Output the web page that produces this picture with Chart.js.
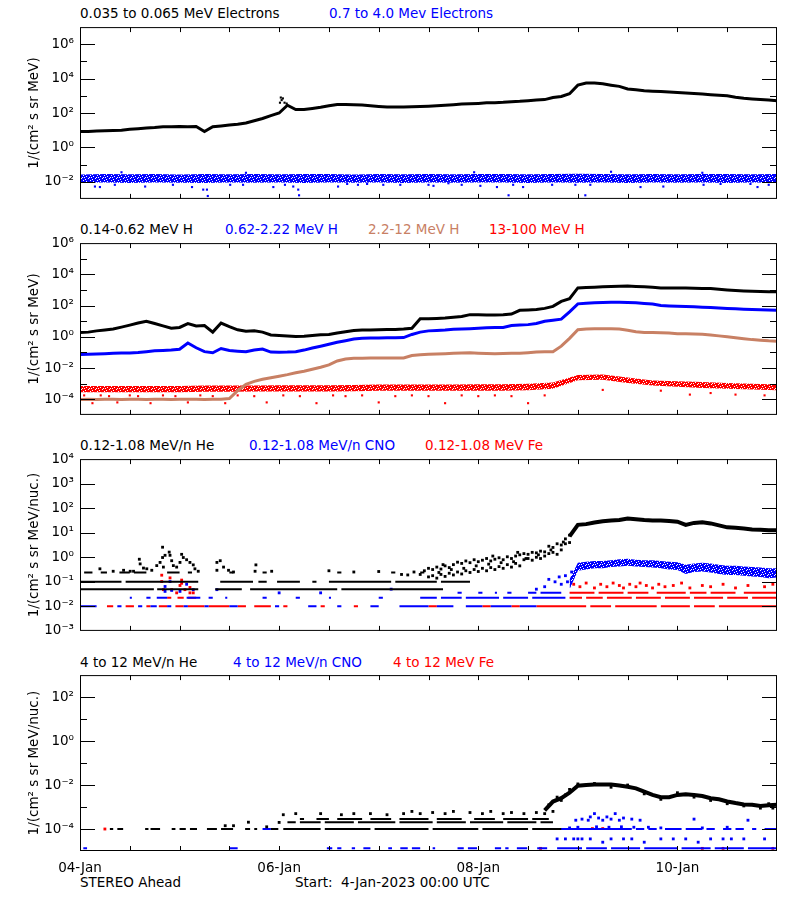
<!DOCTYPE html>
<html lang="en">
<head>
<meta charset="UTF-8">
<title>STEREO Ahead particle fluxes</title>
<script src="https://cdn.jsdelivr.net/npm/chart.js"></script>
<style>
    body {
        margin: 0;
        background: #fff;
        font-family: 'DejaVu Sans', sans-serif;
    }

    #page {
        position: relative;
        width: 800px;
        height: 900px;
    }

    #page canvas {
        position: absolute;
        left: 0;
    }

    .lbl {
        position: absolute;
        font-size: 13.5px;
        line-height: 16px;
        white-space: pre;
        color: #000;
    }

    .blue { color: #0000ff; }
    .red { color: #ff0000; }
    .tan { color: rgb(200, 128, 100); }
</style>
</head>
<body>
<div id="page">
    <div class="lbl" style="top:5px;left:80px">0.035 to 0.065 MeV Electrons</div>
    <div class="lbl blue" style="top:5px;left:329px">0.7 to 4.0 Mev Electrons</div>

    <div class="lbl" style="top:221px;left:80px">0.14-0.62 MeV H</div>
    <div class="lbl blue" style="top:221px;left:225px">0.62-2.22 MeV H</div>
    <div class="lbl tan" style="top:221px;left:368px">2.2-12 MeV H</div>
    <div class="lbl red" style="top:221px;left:489px">13-100 MeV H</div>

    <div class="lbl" style="top:437px;left:80px">0.12-1.08 MeV/n He</div>
    <div class="lbl blue" style="top:437px;left:249px">0.12-1.08 MeV/n CNO</div>
    <div class="lbl red" style="top:437px;left:425px">0.12-1.08 MeV Fe</div>

    <div class="lbl" style="top:654px;left:80px">4 to 12 MeV/n He</div>
    <div class="lbl blue" style="top:654px;left:233px">4 to 12 MeV/n CNO</div>
    <div class="lbl red" style="top:654px;left:393px">4 to 12 MeV Fe</div>

    <div class="lbl" style="top:874px;left:80px">STEREO Ahead</div>
    <div class="lbl" style="top:874px;left:295px">Start:  4-Jan-2023 00:00 UTC</div>

    <canvas id="p1" width="800" height="200" style="top:13px"></canvas>
    <canvas id="p2" width="800" height="200" style="top:229px"></canvas>
    <canvas id="p3" width="800" height="200" style="top:445px"></canvas>
    <canvas id="p4" width="800" height="230" style="top:661px"></canvas>
</div>

<script>
    // x axis: hours since 4-Jan-2023 00:00 UTC (7 days)
    const tickHours = [0, 12, 24, 36, 48, 60, 72, 84, 96, 108, 120, 132, 144, 156, 168];
    const dayHours = [0, 48, 96, 144];
    const dayNames = ['04-Jan', '06-Jan', '08-Jan', '10-Jan'];

    // all values below are log10 of the flux

    // --- panel 1: electrons ---
    // 0.035-0.065 MeV, every 2 h from 0 h
    const eLow = [0.93, 0.92, 0.95, 0.97, 0.98, 1.0, 1.05, 1.08, 1.12, 1.15,
        1.2, 1.2, 1.22, 1.2, 1.22, 0.92, 1.2, 1.25, 1.3, 1.35,
        1.42, 1.55, 1.68, 1.85, 2.0, 2.45, 2.2, 2.2, 2.26, 2.33,
        2.42, 2.5, 2.5, 2.48, 2.46, 2.42, 2.38, 2.35, 2.35, 2.35,
        2.36, 2.38, 2.4, 2.42, 2.45, 2.48, 2.52, 2.54, 2.56, 2.59,
        2.6, 2.62, 2.66, 2.68, 2.72, 2.75, 2.78, 2.9, 2.96, 3.12,
        3.62, 3.74, 3.74, 3.7, 3.62, 3.55, 3.4, 3.35, 3.3, 3.27,
        3.25, 3.22, 3.2, 3.17, 3.14, 3.1, 3.06, 3.03, 3.0, 2.92,
        2.86, 2.82, 2.78, 2.75, 2.72];
    const eSpike = [[48.2, 2.6], [48.4, 2.9], [48.6, 2.75], [48.9, 2.85], [49.3, 2.6], [49.8, 2.55]];
    // 0.7-4.0 MeV: band edges every 6 h, plus stray points
    const eHighTop = [-1.58, -1.55, -1.57, -1.55, -1.58, -1.55, -1.56, -1.55, -1.57, -1.55,
        -1.55, -1.58, -1.55, -1.56, -1.55, -1.57, -1.55, -1.55, -1.56, -1.55,
        -1.53, -1.55, -1.57, -1.55, -1.56, -1.55, -1.55, -1.57, -1.55];
    const eHighBot = [-2.06, -2.05, -2.08, -2.05, -2.06, -2.08, -2.05, -2.06, -2.05, -2.07,
        -2.05, -2.06, -2.05, -2.08, -2.05, -2.06, -2.05, -2.05, -2.07, -2.05,
        -2.06, -2.05, -2.08, -2.05, -2.06, -2.05, -2.07, -2.05, -2.06];
    const eHighOut = [[3.6, -2.28], [4.8, -2.31], [8.4, -2.18], [15.7, -2.28], [22.4, -2.18], [27, -2.31],
        [29.7, -2.46], [30.6, -2.46], [30.8, -2.83], [36.2, -2.18], [39.3, -2.18], [46.6, -2.31],
        [49.4, -2.18], [51.4, -2.28], [52.6, -2.46], [52.8, -2.79], [62.2, -2.28], [64.4, -2.13],
        [67, -2.18], [69.2, -2.13], [73.1, -2.18], [77.2, -2.18], [84, -2.18], [85.2, -2.24],
        [88.8, -2.09], [92, -2.18], [96.5, -2.24], [100.5, -2.31], [103.3, -2.79], [104.4, -2.18],
        [106.8, -2.31], [113.8, -2.18], [119.4, -2.18], [121.8, -2.79], [123, -2.18], [135.1, -2.31],
        [140.6, -2.28], [150.3, -2.18], [154.4, -2.13], [161.6, -2.13], [163.3, -2.31], [166, -2.18],
        [10, -1.45], [40, -1.48], [95, -1.45], [128, -1.42], [150, -1.48]];

    // --- panel 2: protons, every 2 h from 0 h ---
    const hLow = [0.27, 0.3, 0.38, 0.44, 0.5, 0.62, 0.75, 0.88, 1.0, 0.85,
        0.7, 0.55, 0.6, 0.85, 0.7, 0.72, 0.3, 0.88, 0.65, 0.45,
        0.35, 0.38, 0.3, 0.12, 0.08, 0.05, 0.02, 0.03, 0.08, 0.13,
        0.15, 0.25, 0.33, 0.4, 0.44, 0.44, 0.45, 0.46, 0.47, 0.5,
        0.55, 1.15, 1.15, 1.18, 1.2, 1.25, 1.3, 1.42, 1.42, 1.4,
        1.4, 1.42, 1.46, 1.7, 1.72, 1.75, 1.82, 1.95, 2.27, 2.44,
        3.13, 3.15, 3.17, 3.2, 3.22, 3.24, 3.25, 3.22, 3.2, 3.17,
        3.13, 3.13, 3.12, 3.12, 3.11, 3.1, 3.09, 3.05, 3.0, 2.96,
        2.93, 2.91, 2.9, 2.89, 2.88];
    const hMid = [-1.13, -1.12, -1.1, -1.08, -1.05, -1.04, -1.03, -1.0, -0.95, -0.9,
        -0.88, -0.85, -0.8, -0.4, -0.7, -0.95, -1.02, -0.75, -0.88, -0.92,
        -0.95, -0.85, -0.78, -0.98, -0.99, -0.98, -0.95, -0.85, -0.72, -0.6,
        -0.48, -0.35, -0.25, -0.14, -0.1, -0.08, -0.07, -0.06, -0.06, -0.05,
        0.15, 0.3, 0.38, 0.4, 0.43, 0.48, 0.5, 0.52, 0.55, 0.58,
        0.6, 0.6, 0.72, 0.75, 0.78, 0.85, 1.0, 1.06, 1.13, 1.6,
        2.11, 2.15, 2.18, 2.2, 2.21, 2.21, 2.2, 2.18, 2.14, 2.1,
        2.0, 1.98, 1.96, 1.94, 1.92, 1.9, 1.88, 1.85, 1.82, 1.8,
        1.77, 1.75, 1.73, 1.71, 1.7];
    const hHigh = [-4.02, -4.0, -4.02, -4.0, -4.0, -4.02, -4.0, -4.0, -4.02, -4.0,
        -4.0, -4.02, -4.0, -4.0, -4.0, -4.02, -4.0, -4.0, -3.95, -3.45,
        -3.05, -2.85, -2.72, -2.62, -2.52, -2.42, -2.3, -2.2, -2.08, -1.95,
        -1.8, -1.55, -1.42, -1.38, -1.37, -1.36, -1.36, -1.36, -1.36, -1.35,
        -1.2, -1.15, -1.12, -1.1, -1.08, -1.05, -1.03, -1.02, -1.05, -1.07,
        -1.08, -1.07, -1.06, -1.05, -1.02, -0.98, -0.95, -0.95, -0.6, -0.1,
        0.45, 0.5, 0.52, 0.52, 0.52, 0.5, 0.42, 0.32, 0.28, 0.27,
        0.26, 0.25, 0.2, 0.19, 0.18, 0.17, 0.12, 0.06, 0.0, -0.06,
        -0.12, -0.18, -0.22, -0.26, -0.28];
    // 13-100 MeV: band edges every 6 h, plus stray points
    const hTopHi = [-3.15, -3.15, -3.15, -3.15, -3.15, -3.12, -3.12, -3.12, -3.1, -3.1,
        -3.1, -3.08, -3.05, -3.05, -3.05, -3.05, -3.03, -3.03, -3.0, -2.92,
        -2.45, -2.42, -2.6, -2.8, -2.85, -2.9, -2.95, -3.0, -3.05];
    const hTopLo = [-3.55, -3.55, -3.55, -3.55, -3.55, -3.52, -3.52, -3.5, -3.5, -3.5,
        -3.5, -3.48, -3.45, -3.45, -3.45, -3.45, -3.45, -3.45, -3.42, -3.32,
        -2.78, -2.75, -2.95, -3.12, -3.2, -3.28, -3.32, -3.38, -3.42];
    const hTopOut = [[1, -3.75], [3, -4.25], [5, -3.75], [7, -3.8], [9, -4.2], [12, -3.75], [14, -3.8],
        [17, -4.25], [20, -3.75], [23, -3.8], [26, -4.2], [29, -3.75], [32, -3.8], [35, -4.25],
        [38, -3.75], [42, -3.8], [45, -4.2], [49, -3.75], [53, -3.8], [57, -4.25], [61, -3.75],
        [64, -3.8], [68, -3.75], [72, -4.2], [76, -3.8], [80, -3.75], [84, -3.8], [88, -4.25],
        [92, -3.75], [96, -3.8], [100, -3.75], [104, -3.8], [108, -4.25], [112, -3.75],
        [126, -3.4], [140, -3.45], [147, -3.7], [152, -3.6], [158, -3.7], [165, -3.75]];

    // --- panel 3: 0.12-1.08 MeV/n ions ---
    const heEvent = [0.85, 1.32, 1.35, 1.42, 1.47, 1.5, 1.52, 1.58, 1.55, 1.52,
        1.5, 1.5, 1.48, 1.45, 1.32, 1.4, 1.43, 1.38, 1.3, 1.22,
        1.2, 1.17, 1.13, 1.12, 1.1, 1.1];            // every 2 h from 118 h
    const heRiseHi = [-0.45, -0.5, -0.4, -0.48, -0.35, -0.42, -0.3, -0.2, -0.25, -0.15,
        -0.22, -0.1, -0.18, -0.12, -0.05, -0.15, -0.08, -0.02, -0.1, 0.02,
        -0.05, 0.05, 0.1, 0.15, 0.12, 0.2, 0.18, 0.25, 0.22, 0.45,
        0.4, 0.55, 0.5, 0.75, 0.9];                   // every 1 h from 84 h
    const heRiseLo = [-0.8, -0.75, -0.85, -0.7, -0.78, -0.65, -0.72, -0.6, -0.68, -0.55,
        -0.62, -0.5, -0.58, -0.45, -0.55, -0.42, -0.5, -0.38, -0.45, -0.3,
        -0.4, -0.25, -0.35, -0.1, -0.05, -0.12, 0.0, -0.05, 0.05, 0.15,
        0.2, 0.12, 0.3, 0.55, 0.6];
    const heSpots = [[19.9, 0.41], [21.5, 0.21], [20.5, 0.08], [21.7, 0.08], [19.9, -0.01], [19.3, -0.21],
        [18.5, -0.34], [20.1, -0.4], [17.3, -0.53], [16.1, -0.47], [15.3, -0.44], [14.3, -0.08],
        [14.5, -0.27], [12.9, -0.57], [10.5, -0.53], [24.5, 0.12], [24.9, -0.01], [25.7, -0.1],
        [26.5, -0.21], [27.3, -0.31], [24.1, -0.21], [23.3, -0.4], [27.7, -0.47], [28.5, -0.57],
        [22.1, -0.14], [22.5, -0.34], [33, -0.21], [33.8, -0.14], [34.6, -0.4], [35.8, -0.53],
        [37, -0.6], [33, -0.53], [42.4, -0.31], [42.2, -0.57], [46.2, -0.57], [4.8, -0.47],
        [8, -0.57], [12.1, -0.57], [60, -0.55], [66, -0.6], [72, -0.58], [77.5, -0.7],
        [79, -0.72], [80.5, -0.6], [82, -0.7], [83, -0.55], [86.5, -0.62], [89.5, -0.5],
        [92.5, -0.45], [95.5, -0.35], [98.5, -0.28], [101.5, -0.22], [104.5, -0.18], [107.5, -0.05],
        [110.5, 0.1], [113.5, 0.3], [116.5, 0.62], [87.5, -0.3], [99.5, 0.05], [105.5, 0.2]];
    // count-floor levels (value) and the hour ranges where they show
    const heLevels = [-1.3, -1.0, -0.62];
    const heRunsA = [[0, 17.8], [18.6, 28.5], [32.6, 39], [41, 62], [63, 87.5]];
    const heRunsB = [[0, 10], [11, 28.5], [33.8, 41.7], [43, 45], [47.5, 53], [56, 57], [60, 75], [76, 86], [87, 94]];
    const heRunsC = [[1, 3], [5, 6.5], [9.5, 12], [13, 16], [21, 24], [26, 27], [36, 37], [44, 45], [62, 63], [75, 76], [82, 83]];

    const cnoEvtHi = [-0.9, -0.22, -0.18, -0.15, -0.15, -0.12, -0.08, -0.06, -0.1, -0.12,
        -0.12, -0.15, -0.18, -0.2, -0.3, -0.25, -0.22, -0.25, -0.3, -0.35,
        -0.35, -0.38, -0.4, -0.42, -0.45, -0.45];     // every 2 h from 118 h
    const cnoEvtLo = [-1.3, -0.55, -0.5, -0.45, -0.45, -0.4, -0.38, -0.35, -0.38, -0.4,
        -0.42, -0.45, -0.5, -0.52, -0.68, -0.6, -0.58, -0.62, -0.68, -0.72,
        -0.72, -0.75, -0.78, -0.8, -0.85, -0.82];
    const cnoSpots = [[21.7, -0.99], [20.5, -1.19], [25.7, -1.1], [22.1, -1.35], [27.3, -1.32], [33, -1.32],
        [20.5, -1.39], [24.1, -1.39], [48, -1.45], [58, -1.45], [75, -1.3], [113, -0.9], [114.5, -1.0],
        [115.5, -0.8], [116, -1.1], [117, -0.75], [117.5, -1.0], [118.5, -0.6], [112, -1.2], [110, -1.3]];
    const ionLevels = [-2.0, -1.65, -1.45];
    const cnoRunsA = [[0, 4], [9, 10], [14, 15], [17, 18.5], [21, 22], [25, 26], [30, 31], [36, 38], [47, 48],
        [55, 57], [62, 63], [70, 72], [77, 84], [86, 90], [93, 97], [99, 104], [106, 110]];
    const cnoRunsB = [[12, 12.5], [16, 17], [18.5, 21], [25.7, 29], [31, 32], [35, 35.5], [44, 45], [52, 53],
        [60, 60.5], [72, 73], [82, 86], [87, 92], [93, 101], [102, 108], [109, 117]];
    const cnoRunsC = [[91, 92], [96, 97], [100, 100.5], [103, 104], [108, 110], [111, 116]];

    const feSpots = [[19.7, -0.73], [21.7, -0.84], [24.5, -0.93], [24.5, -1.06], [24.1, -1.15], [26.5, -1.23],
        [19.7, -0.99], [20.1, -1.32], [22.1, -1.32], [25.3, -1.32], [27.3, -1.45], [26.5, -1.45],
        [23.3, -1.45], [119, -1.1], [120.5, -1.2], [122, -1.05], [124, -1.25], [125.5, -1.1],
        [127, -1.2], [128.5, -1.05], [130, -1.15], [131, -1.25], [132.5, -1.1], [134, -1.2],
        [135, -1.05], [136.5, -1.15], [138, -1.25], [139.5, -1.1], [141, -1.2], [143, -1.15],
        [145, -1.05], [147, -1.25], [150, -1.15], [152, -1.2], [155, -1.1], [158, -1.25],
        [161, -1.15], [165, -1.2], [167, -1.1]];
    const feRunsA = [[6.5, 8], [11, 13], [16, 17], [19, 21], [23, 25], [26, 30], [31, 36], [38, 40], [42, 46],
        [49, 50], [58, 59], [66, 67], [84, 86], [97, 99], [104, 106], [110, 122], [123, 128],
        [129, 139], [140, 147], [148, 153], [154, 168]];
    const feRunsB = [[21, 22], [23.5, 25], [26, 28], [118, 121], [122, 126], [127, 133], [134, 140],
        [141, 147], [148, 155], [156, 161], [162, 168]];
    const feRunsC = [[118, 124], [125, 131], [132, 137], [139, 146], [147, 151], [152, 158], [160, 168]];

    // --- panel 4: 4-12 MeV/n ions ---
    const he4Event = [-3.15, -2.75, -2.6, -2.35, -2.03, -2.0, -1.98, -1.97, -1.98, -2.02,
        -2.08, -2.15, -2.3, -2.45, -2.55, -2.55, -2.45, -2.42, -2.45, -2.5,
        -2.6, -2.65, -2.75, -2.82, -2.88, -2.9, -2.95, -2.92, -2.9];   // every 2 h from 112 h
    const he4Spots = [[35, -3.85], [37, -3.85], [40.6, -3.69], [45, -3.9], [48, -3.7], [49, -3.35], [52, -3.3],
        [58, -3.3], [63, -3.35], [66, -3.3], [70, -3.3], [74, -3.35], [78, -3.3], [80, -3.2], [82, -3.3],
        [85, -3.25], [88, -3.3], [90, -3.2], [94, -3.25], [97, -3.3], [99, -3.2], [102, -3.3],
        [104, -3.25], [107, -3.3], [110, -3.25], [112, -3.3], [114, -3.2], [113, -2.9], [115, -2.55],
        [116, -2.7], [117, -2.45], [118, -2.2], [120, -1.95], [124, -1.93], [128, -2.1], [132, -2.0],
        [136, -2.4], [140, -2.65], [144, -2.35], [148, -2.55], [152, -2.7], [156, -2.85], [160, -2.95],
        [164, -3.05], [166, -2.85], [167, -3.05]];
    const he4Levels = [-4.0, -3.69, -3.54];
    const he4RunsA = [[7.2, 8], [9, 10.4], [15.7, 16.5], [17, 19.3], [22.1, 23], [24, 25.5], [26.5, 28.2],
        [30.6, 33], [34, 36.9], [39.8, 41], [42, 42.7], [46, 47.8], [49, 58], [59, 70], [71, 84],
        [85, 96], [97, 108], [109, 116]];
    const he4RunsB = [[50, 52], [53, 58], [59, 66], [67, 76], [77, 85], [86, 93], [94, 102], [103, 110], [111, 114]];
    const he4RunsC = [[53, 54], [57, 60], [62, 68], [70, 75], [77, 84], [86, 92], [95, 100], [102, 108], [109, 113]];

    const cno4Levels = [-4.0, -4.88];
    const cno4RunsA = [[44, 46], [78, 79], [91, 92], [99, 100], [106, 107], [110, 112], [114, 116], [116, 133],
        [134, 136], [137, 139], [141, 145], [146, 150], [151, 153], [155, 157], [158, 160], [162, 163], [165, 168]];
    const cno4RunsB = [[0.8, 1.7], [36, 38], [59.5, 60.8], [62, 63], [65.5, 66.3], [68.3, 70], [74.3, 75.2],
        [77.2, 79], [80, 82], [85, 85.6], [91, 92.5], [93.5, 95.7], [100, 101.5], [102.5, 103.3],
        [105.3, 107.8], [110.2, 112.6], [115, 121], [122, 127], [128, 135], [136, 144], [145, 152],
        [153, 160], [161, 168]];
    const cno4Spots = [[115, -4.45], [117, -4.45], [119, -4.45], [120, -4.45], [121, -4.45], [123, -4.45],
        [126, -4.6], [128, -4.45], [131, -4.45], [133, -4.45], [136, -4.6], [140, -4.45], [143, -4.45],
        [146, -4.45], [149, -4.6], [152, -4.45], [155, -4.45], [157, -4.45], [160, -4.45], [165, -4.45],
        [119.5, -3.6], [121, -3.55], [122.5, -3.6], [123, -3.45], [124, -3.3], [125, -3.5], [126, -3.6],
        [127, -3.45], [128, -3.55], [129, -3.3], [130, -3.6], [131, -3.5], [133, -3.55], [135, -3.6],
        [118, -3.95], [120, -3.92], [124.5, -3.9], [127.5, -3.92], [130.5, -3.9], [133.5, -3.92],
        [137, -3.92], [140, -3.95], [148, -3.55], [150, -3.95], [156, -3.92], [161, -3.6]];
    const fe4Spots = [[6, -4.0], [111, -4.88], [123.5, -3.98], [126, -3.98], [150, -4.88], [155, -4.88], [167, -4.88]];

    const BLACK = '#000000', BLUE = '#0000ff', RED = '#ff0000', TAN = 'rgb(200,128,100)';

    Chart.defaults.font.family = "'DejaVu Sans', sans-serif";
    Chart.defaults.color = '#000';

    const fromGrid = (start, step, vals) => vals.map((v, i) => ({x: start + i * step, y: 10 ** v}));
    const fromPairs = list => list.map(([h, v]) => ({x: h, y: 10 ** v}));
    const fromRuns = (list, v) => list.flatMap(([a, b]) => [{x: a, y: 10 ** v}, {x: b, y: 10 ** v}, {x: b, y: null}]);

    // speckled fill so the noisy bands look like densely packed dots
    function speckle(color) {
        const c = document.createElement('canvas');
        c.width = 7;
        c.height = 5;
        const g = c.getContext('2d');
        g.fillStyle = color;
        g.fillRect(0, 0, 7, 5);
        [[1, 1], [4, 0], [6, 2], [2, 3], [5, 4], [0, 4]].forEach(([x, y]) => g.clearRect(x, y, 1, 1));
        return g.createPattern(c, 'repeat');
    }

    const trace = (data, color, width) => ({
        type: 'line', data, borderColor: color, borderWidth: width,
        pointRadius: 0, fill: false, spanGaps: false
    });
    const dots = (data, color, r) => ({
        data, pointStyle: 'rect', pointRadius: r, pointBorderWidth: 0,
        pointBackgroundColor: color, backgroundColor: color, borderColor: color
    });
    const band = (hi, lo, color) => [
        {type: 'line', data: hi, borderWidth: 0, borderColor: 'transparent', pointRadius: 0, fill: '+1', backgroundColor: speckle(color)},
        {type: 'line', data: lo, borderWidth: 0, borderColor: 'transparent', pointRadius: 0, fill: false}
    ];

    const sup = {'-': '⁻', '0': '⁰', '1': '¹', '2': '²', '3': '³', '4': '⁴', '5': '⁵', '6': '⁶', '7': '⁷'};
    const powLabel = e => '10' + String(e).split('').map(ch => sup[ch]).join('');

    // box round the plot plus IDL-style inward ticks on all four sides
    function frame(labeled) {
        return {
            id: 'frame',
            afterDraw(chart) {
                const {ctx, chartArea: a, scales: {x, y}} = chart;
                ctx.save();
                ctx.strokeStyle = '#000';
                ctx.lineWidth = 1;
                ctx.beginPath();
                y.ticks.forEach(t => {
                    const py = Math.round(y.getPixelForValue(t.value)) + 0.5;
                    if (py <= a.top + 1 || py >= a.bottom - 1) return;
                    const len = labeled.includes(Math.round(Math.log10(t.value))) ? 15 : 7;
                    ctx.moveTo(a.left, py); ctx.lineTo(a.left + len, py);
                    ctx.moveTo(a.right, py); ctx.lineTo(a.right - len, py);
                });
                x.ticks.forEach(t => {
                    const px = Math.round(x.getPixelForValue(t.value)) + 0.5;
                    if (px <= a.left + 1 || px >= a.right - 1) return;
                    ctx.moveTo(px, a.bottom); ctx.lineTo(px, a.bottom - 5);
                    ctx.moveTo(px, a.top); ctx.lineTo(px, a.top + 5);
                });
                ctx.stroke();
                ctx.strokeRect(a.left + 0.5, a.top + 0.5, a.right - a.left - 1, a.bottom - a.top - 1);
                ctx.restore();
            }
        };
    }

    function panel(id, lo, hi, decades, labeled, yTitle, datasets, bottom) {
        return new Chart(document.getElementById(id), {
            type: 'scatter',
            data: {datasets},
            options: {
                responsive: false,
                animation: false,
                devicePixelRatio: 1,
                layout: {padding: {left: 0, right: 23, top: 10, bottom: 0}},
                plugins: {legend: {display: false}, tooltip: {enabled: false}},
                scales: {
                    x: {
                        type: 'linear', min: 0, max: 168,
                        grid: {display: false, drawTicks: false},
                        border: {display: false},
                        afterBuildTicks: s => { s.ticks = tickHours.map(v => ({value: v})); },
                        ticks: {
                            display: bottom, autoSkip: false, maxRotation: 0, padding: 9,
                            font: {size: 13.5},
                            callback: v => { const i = dayHours.indexOf(v); return i < 0 ? '' : dayNames[i]; }
                        },
                        afterFit: s => { s.height = bottom ? 40 : 10; }
                    },
                    y: {
                        type: 'logarithmic', min: 10 ** lo, max: 10 ** hi,
                        grid: {display: false, drawTicks: false},
                        border: {display: false},
                        afterBuildTicks: s => { s.ticks = decades.map(e => ({value: 10 ** e})); },
                        ticks: {
                            autoSkip: false, padding: 6, font: {size: 13.5},
                            callback: v => {
                                const e = Math.round(Math.log10(v));
                                return labeled.includes(e) ? powLabel(e) : '';
                            }
                        },
                        title: {display: true, text: yTitle, font: {size: 13.5}, padding: {top: 26, bottom: 0}},
                        afterFit: s => { s.width = 80; }
                    }
                }
            },
            plugins: [frame(labeled)]
        });
    }

    const unitE = '1/(cm² s sr MeV)';
    const unitN = '1/(cm² s sr MeV/nuc.)';

    panel('p1', -3, 7, [-2, -1, 0, 1, 2, 3, 4, 5, 6], [-2, 0, 2, 4, 6], unitE, [
        trace(fromGrid(0, 2, eLow), BLACK, 3),
        dots(fromPairs(eSpike), BLACK, 1.5),
        ...band(fromGrid(0, 6, eHighTop), fromGrid(0, 6, eHighBot), BLUE),
        dots(fromPairs(eHighOut), BLUE, 1.5)
    ], false);

    panel('p2', -5, 6, [-4, -3, -2, -1, 0, 1, 2, 3, 4, 5, 6], [-4, -2, 0, 2, 4, 6], unitE, [
        trace(fromGrid(0, 2, hLow), BLACK, 3),
        trace(fromGrid(0, 2, hMid), BLUE, 3),
        trace(fromGrid(0, 2, hHigh), TAN, 3),
        ...band(fromGrid(0, 6, hTopHi), fromGrid(0, 6, hTopLo), RED),
        dots(fromPairs(hTopOut), RED, 1.5)
    ], false);

    panel('p3', -3, 4, [-3, -2, -1, 0, 1, 2, 3, 4], [-3, -2, -1, 0, 1, 2, 3, 4], unitN, [
        trace(fromGrid(118, 2, heEvent), BLACK, 4),
        dots(fromGrid(84, 1, heRiseHi), BLACK, 2),
        dots(fromGrid(84, 1, heRiseLo), BLACK, 2),
        dots(fromPairs(heSpots), BLACK, 2),
        trace(fromRuns(heRunsA, heLevels[0]), BLACK, 2),
        trace(fromRuns(heRunsB, heLevels[1]), BLACK, 2),
        trace(fromRuns(heRunsC, heLevels[2]), BLACK, 2),
        ...band(fromGrid(118, 2, cnoEvtHi), fromGrid(118, 2, cnoEvtLo), BLUE),
        dots(fromPairs(cnoSpots), BLUE, 2),
        trace(fromRuns(cnoRunsA, ionLevels[0]), BLUE, 2),
        trace(fromRuns(cnoRunsB, ionLevels[1]), BLUE, 2),
        trace(fromRuns(cnoRunsC, ionLevels[2]), BLUE, 2),
        dots(fromPairs(feSpots), RED, 2),
        trace(fromRuns(feRunsA, ionLevels[0]), RED, 2),
        trace(fromRuns(feRunsB, ionLevels[1]), RED, 2),
        trace(fromRuns(feRunsC, ionLevels[2]), RED, 2)
    ], false);

    panel('p4', -5, 3, [-4, -3, -2, -1, 0, 1, 2], [-4, -2, 0, 2], unitN, [
        trace(fromGrid(112, 2, he4Event), BLACK, 4),
        dots(fromPairs(he4Spots), BLACK, 2),
        trace(fromRuns(he4RunsA, he4Levels[0]), BLACK, 2),
        trace(fromRuns(he4RunsB, he4Levels[1]), BLACK, 2),
        trace(fromRuns(he4RunsC, he4Levels[2]), BLACK, 2),
        dots(fromPairs(cno4Spots), BLUE, 2),
        trace(fromRuns(cno4RunsA, cno4Levels[0]), BLUE, 2),
        trace(fromRuns(cno4RunsB, cno4Levels[1]), BLUE, 2),
        dots(fromPairs(fe4Spots), RED, 2)
    ], true);
</script>
</body>
</html>
